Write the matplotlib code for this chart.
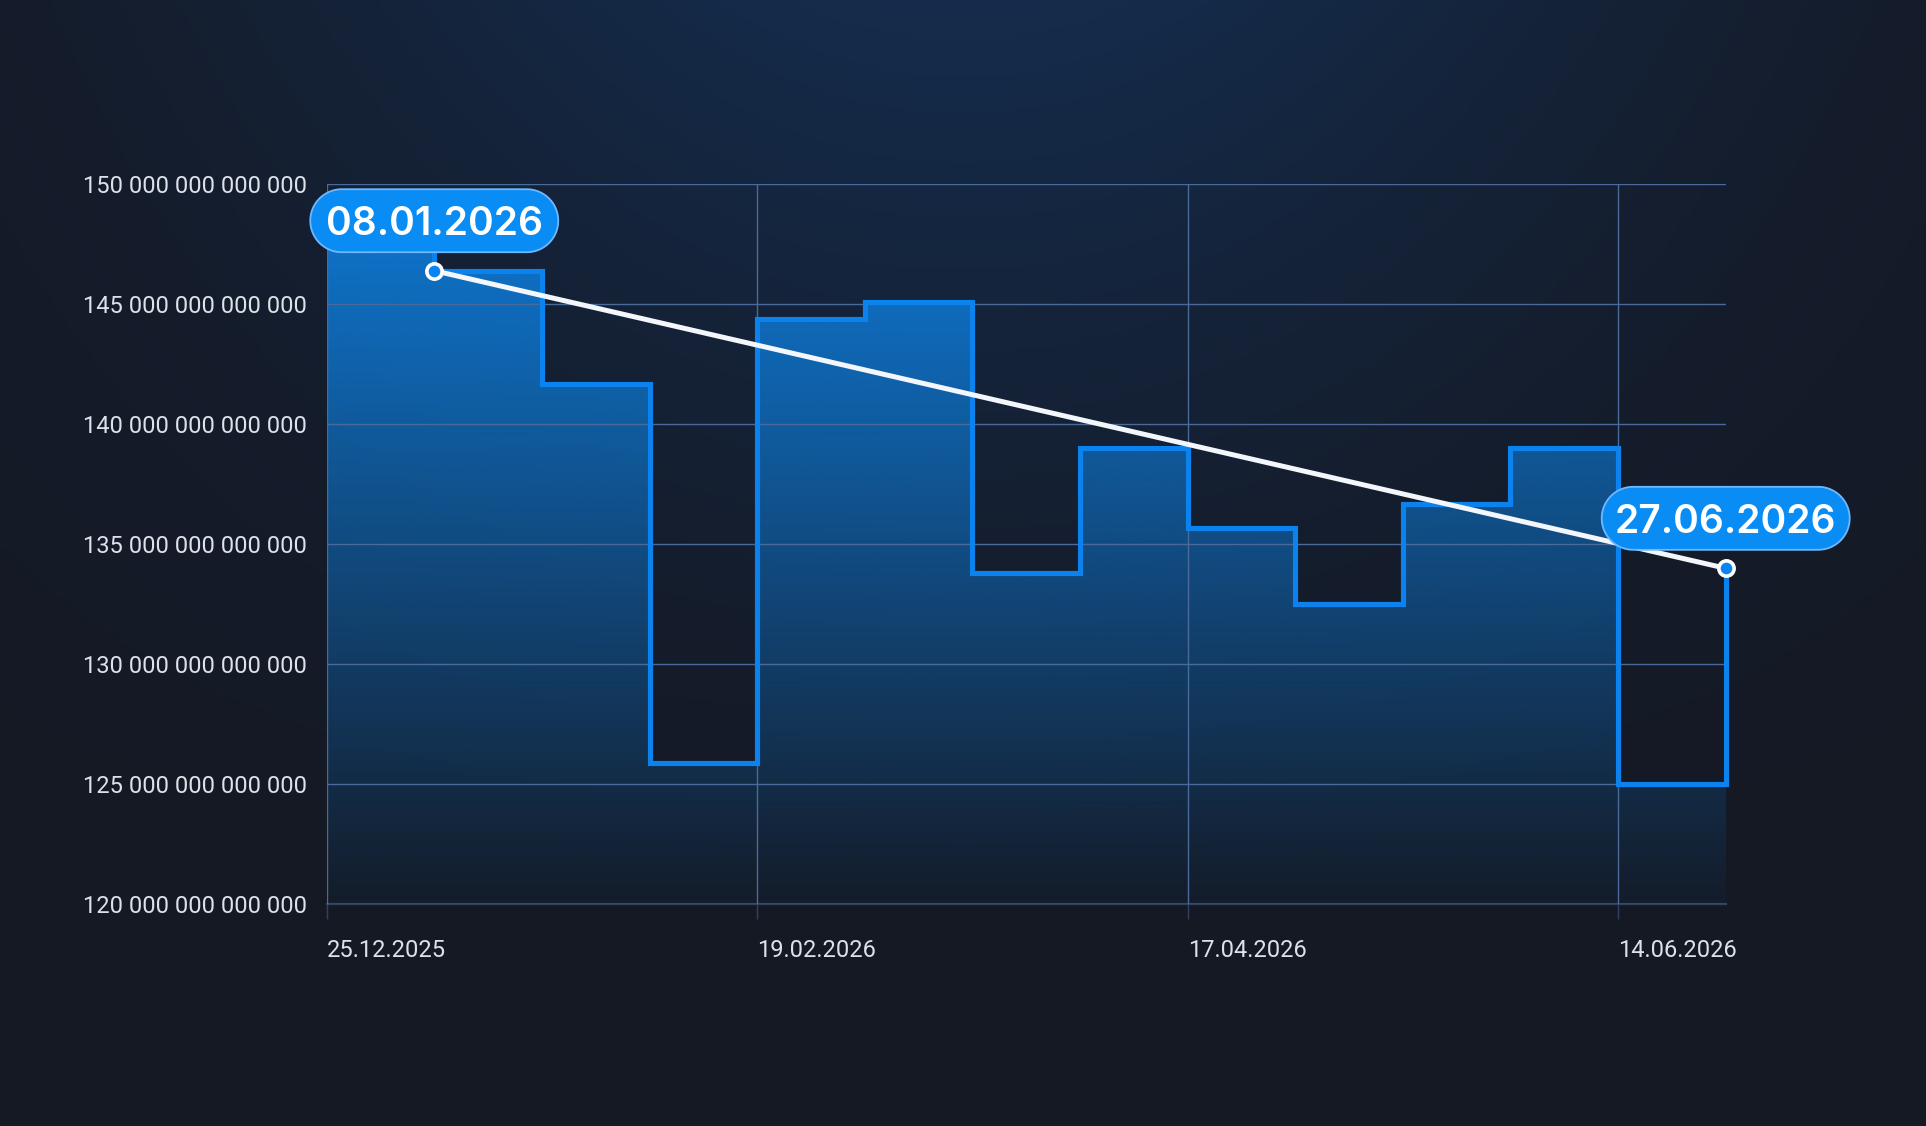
import numpy as np
import matplotlib.pyplot as plt
from matplotlib.colors import to_rgb
from matplotlib.patches import Polygon
from matplotlib.transforms import ScaledTranslation
from matplotlib.ticker import FuncFormatter

plt.rcParams['font.family'] = ['Roboto', 'DejaVu Sans']

# values (x 1e12), one per two-week step
values = [148.0, 146.4, 141.7, 125.9, 144.4, 145.1, 133.8, 139.0,
          135.7, 132.5, 136.7, 139.0, 125.0, 134.0]
x_ticklabels = ["25.12.2025", "19.02.2026", "17.04.2026", "14.06.2026"]
callout_labels = ["08.01.2026", "27.06.2026"]
y_min, y_max, y_step = 120, 150, 5

scale = 1e12
y = np.array(values) * scale
x = np.arange(len(y))

W, H, DPI = 1926, 1126, 100
fig = plt.figure(figsize=(W / DPI, H / DPI), dpi=DPI)

# dark background with a soft blue glow at the top
bg = fig.add_axes([0, 0, 1, 1], zorder=-10)
gx, gy = np.meshgrid(np.linspace(0, 1, 400), np.linspace(0, 1, 240))
w = np.exp(-((gx - 0.5) / 0.38) ** 2) * np.clip(1 - gy / 0.8, 0, 1) ** 1.3
base = np.array([21, 25, 36]) / 255
glow = np.array([20, 44, 76]) / 255
bg.imshow(base + w[..., None] * (glow - base), extent=[0, 1, 0, 1],
          aspect='auto', origin='upper')
bg.axis('off')

ax = fig.add_axes([0.1696, 0.1969, 0.7264, 0.6394])
ax.patch.set_alpha(0)

# gradient fill under the step line
poly = ax.fill_between(x, y, y_min * scale, step='post',
                       facecolor='none', edgecolor='none')
grad = np.zeros((256, 1, 4))
grad[..., :3] = to_rgb('#0d86ec')
grad[..., 3] = 0.03 + 0.84 * np.linspace(0, 1, 256)[:, None]
im = ax.imshow(grad, extent=[0, x[-1], y_min * scale, y_max * scale],
               origin='lower', aspect='auto', zorder=1)
im.set_clip_path(poly.get_paths()[0], transform=ax.transData)

ax.plot(x, y, drawstyle='steps-post', color='#0b82ee', lw=3.7, zorder=3,
        clip_on=False, solid_joinstyle='miter')

# trend line between first and last marked points
i0, i1 = 1, len(y) - 1
ax.plot([x[i0], x[i1]], [y[i0], y[i1]], color='#f3f6fb', lw=3.6, zorder=4,
        solid_capstyle='round')
ax.plot([x[i0], x[i1]], [y[i0], y[i1]], 'o', ms=11, mfc='#0a84f0',
        mec='white', mew=2.6, zorder=5, clip_on=False)


def pill(w, h, cy):
    # stadium shape in inches, centred horizontally on 0
    r = h / 2
    a = np.linspace(-np.pi / 2, np.pi / 2, 40)
    right = np.c_[w / 2 - r + r * np.cos(a), cy + r * np.sin(a)]
    left = np.c_[-w / 2 + r - r * np.cos(a), cy - r * np.sin(a)]
    return np.vstack([right, left])


for i, lab in zip([i0, i1], callout_labels):
    tr = fig.dpi_scale_trans + ScaledTranslation(x[i], y[i], ax.transData)
    box = Polygon(pill(2.48, 0.63, 0.5), closed=True, transform=tr,
                  fc='#0a8cf5', ec='#6fb8ff', lw=1.3, zorder=6, clip_on=False)
    ax.add_artist(box)
    ax.text(0, 0.5, lab, transform=tr, ha='center', va='center_baseline',
            fontsize=28, color='white', family=['Inter', 'DejaVu Sans'],
            fontweight='semibold', zorder=7, clip_on=False)

ax.set_xlim(0, x[-1])
ax.set_ylim(y_min * scale, y_max * scale)
ax.set_yticks(np.arange(y_min, y_max + 1, y_step) * scale)
ax.yaxis.set_major_formatter(FuncFormatter(lambda v, p: f"{v:,.0f}".replace(",", " ")))
ax.set_xticks(x[::4])
ax.set_xticklabels(x_ticklabels)
for t in ax.get_xticklabels():
    t.set_ha('left')

gc = (0.29, 0.42, 0.60, 0.5)
ax.set_axisbelow(False)
ax.grid(True, color=gc, lw=1.0)
for s in ['top', 'right', 'left']:
    ax.spines[s].set_visible(False)
ax.spines['bottom'].set_color(gc)
ax.spines['bottom'].set_linewidth(1.6)
ax.tick_params(axis='y', length=0, pad=14.5, labelsize=17, labelcolor='#dde2ea')
ax.tick_params(axis='x', length=11, width=1, color=gc, pad=14,
               labelsize=17, labelcolor='#dde2ea')

fig.savefig('out.png', dpi=DPI)
